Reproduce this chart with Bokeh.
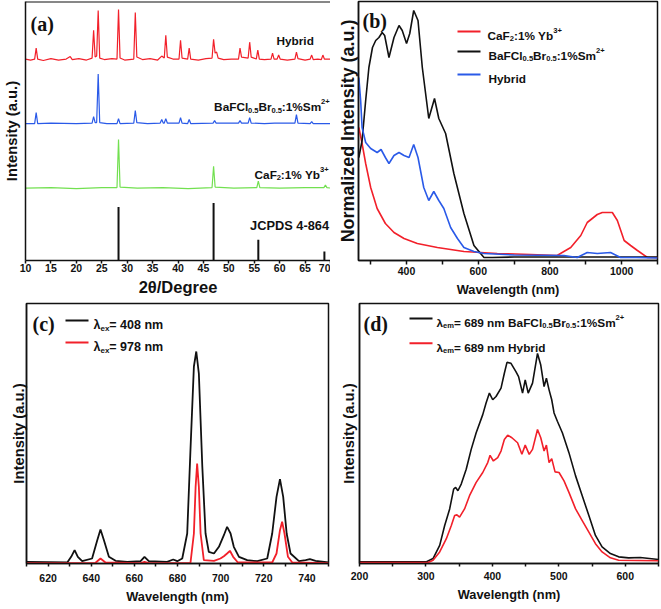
from bokeh.plotting import figure
from bokeh.layouts import row, column
from bokeh.models import FixedTicker, Span
from bokeh.core.properties import value
from bokeh.embed import file_html
from bokeh.resources import INLINE

RED = "#f2202a"
BLUE = "#2a5ae8"
GREEN = "#72e050"
BLACK = "#111111"
SANS = "Liberation Sans"
SERIF = "Liberation Serif"

# ---------------- (a) XRD data (2theta, intensity offset) ----------------
hyb_x = [10.0, 11.0, 11.8, 12.1, 12.4, 13.5, 15.0, 16.5, 18.0, 18.8, 19.2, 20.5, 22.0, 23.1, 23.4, 23.7,
         24.0, 24.3, 24.6, 25.5, 27.0, 28.0, 28.3, 28.6, 29.5, 31.3, 31.6, 31.9, 33.0, 34.5, 36.0, 36.8,
         37.3, 37.6, 37.9, 39.0, 40.2, 40.5, 40.8, 41.9, 42.2, 42.5, 44.0, 45.5, 46.7, 47.0, 47.3, 47.6,
         47.9, 49.0, 50.5, 51.9, 52.2, 52.5, 53.8, 54.1, 54.4, 55.4, 55.7, 56.0, 57.0, 58.3, 58.6, 58.9,
         59.5, 59.8, 60.1, 61.5, 63.0, 63.3, 63.6, 65.0, 66.0, 66.3, 66.6, 67.5, 68.2, 68.5, 68.8, 70.0]
hyb_y = [203, 202, 203, 214, 203, 201.5, 203.5, 202, 203, 205.5, 202.5, 203.5, 202, 204, 232, 205,
         206, 252, 204, 202.5, 203.5, 203, 253, 204, 202, 203, 250, 205, 202.5, 203.5, 202, 206,
         204, 227, 205, 203, 203, 222, 204, 203, 214, 203, 202, 203.5, 204, 223, 209, 210,
         204, 202.5, 203, 203, 214, 205, 204, 220, 205, 203, 212, 203, 202.5, 203, 209, 203,
         203, 207, 203, 202, 203, 210, 203.5, 202, 203, 207, 202.5, 203, 202.5, 207, 203, 203]

bafcl_x = [10.0, 11.8, 12.1, 12.4, 15.0, 20.0, 23.1, 23.4, 23.7, 24.0, 24.3, 24.6, 26.0, 28.0, 28.3, 28.6,
           31.3, 31.6, 31.9, 34.0, 36.5, 36.8, 37.1, 37.3, 37.6, 37.9, 40.2, 40.5, 40.8, 41.9, 42.2, 42.5,
           46.9, 47.2, 47.5, 51.9, 52.2, 52.5, 53.8, 54.1, 54.4, 57.0, 59.0, 63.0, 63.3, 63.6, 66.0, 66.3,
           66.6, 70.0]
bafcl_y = [138, 138, 149, 138, 138.5, 138, 138.5, 145, 139, 139, 188, 139, 138, 138, 143, 138,
           138.5, 151, 139, 138, 138.5, 142, 138.5, 138.5, 143, 138.5, 138.5, 144, 138.5, 138, 142, 138,
           138.5, 141, 138.5, 138.5, 141, 138.5, 138.5, 144, 138.5, 138, 138.5, 138.5, 147, 138.5, 138, 140,
           138, 138]

caf2_x = [10.0, 15.0, 20.0, 25.0, 28.0, 28.3, 28.6, 32.0, 37.0, 42.0, 46.7, 47.0, 47.3, 51.0, 55.5, 55.8,
          56.1, 60.0, 65.0, 68.7, 69.0, 69.3, 70.0]
caf2_y = [73, 73.5, 72.5, 73.5, 73.5, 122, 74, 73, 73.5, 72.5, 73.5, 95, 74, 73, 73.5, 80,
          73.5, 73, 73.5, 73.5, 76, 73.5, 73]

jcpds_pos = [28.3, 47.0, 55.8, 68.8]
jcpds_h = [54, 58, 21, 9]

xrd_ticks = [10, 15, 20, 25, 30, 35, 40, 45, 50, 55, 60, 65, 70]

# ---------------- (b) excitation spectra ----------------
b_black_w = [267, 276, 286, 295, 305, 314, 323, 332, 339, 351, 365, 379, 388, 400, 409, 420, 432, 444,
             462, 478, 490, 509, 532, 560, 588, 616, 640, 700, 800, 900, 1000, 1100]
b_black_i = [103, 120, 160, 193, 213, 220, 223, 228, 225, 203, 223, 235, 230, 217, 227, 250, 240, 193,
             142, 162, 142, 127, 87, 47, 15, 3, 3, 3.5, 3.5, 3.5, 3.5, 3.5]
b_blue_w = [267, 272, 276, 286, 300, 318, 329, 341, 351, 365, 379, 393, 407, 420, 432, 448, 462, 476,
            490, 504, 523, 542, 560, 588, 616, 700, 839, 876, 904, 932, 969, 997, 1040, 1100]
b_blue_i = [183, 160, 133, 118, 112, 108, 111, 103, 97, 105, 108, 105, 103, 116, 103, 73, 60, 69,
            60, 52, 33, 22, 13, 9, 7, 5.5, 5, 3, 8, 7, 8, 3, 3, 2.5]
b_red_w = [267, 276, 286, 300, 318, 341, 365, 393, 430, 486, 560, 653, 746, 820, 858, 886, 904, 932,
           946, 974, 988, 1007, 1025, 1044, 1072, 1100]
b_red_i = [133, 117, 97, 73, 52, 37, 28, 22, 17, 13, 9, 7, 6, 5, 13, 25, 38, 46,
           48, 48, 40, 20, 15, 10, 3, 3]

# ---------------- (c) emission spectra ----------------
c_black_w = [610, 628.9, 630.7, 632.3, 633.8, 635.8, 640.4, 642.8, 644.3, 645.9, 648.2, 651.3, 656.7,
             662.9, 664.7, 666.7, 675.2, 678, 679.9, 682.2, 684.5, 686, 687.6, 688.7, 689.9, 691.5, 693,
             694.5, 696.9, 699.2, 701.5, 703, 704.6, 706.1, 708.5, 712.3, 717, 721.6, 723.9, 725.9, 727.5,
             729, 730.6, 732.4, 736.3, 739.4, 741.4, 744, 750]
c_black_i = [1.7, 1, 6.7, 13.3, 6.7, 2.3, 5, 23.3, 34, 23.3, 6.7, 2.7, 1.7,
             2.3, 6.7, 2.3, 1.7, 4, 2.3, 5, 30, 113, 197, 212, 190, 97, 30,
             11.7, 10, 16.7, 28.3, 36.7, 30, 16.7, 6.7, 3.3, 2.3, 5, 30, 66.7, 84.3,
             66.7, 30, 10, 2.3, 3.3, 4.3, 2.7, 1]
c_red_w = [610, 642, 644.3, 646.6, 662.9, 664.7, 666.7, 686, 687.6, 688.4, 689.1, 689.9, 690.7, 692.2,
           696.9, 699.9, 701.5, 703, 704.3, 705.8, 708, 723.9, 725.9, 727.5, 728.5, 729.6, 731.2, 733.2, 750]
c_red_i = [0.3, 0.7, 5, 1, 0.3, 1.7, 0.3, 0.3, 30, 76.7, 100, 76.7, 30, 3.3,
           2.7, 5, 7.3, 10, 12.7, 6.7, 1, 1, 10, 33.3, 41.7, 30, 6.7, 1, 0.3]

# ---------------- (d) excitation spectra (em 689 nm) ----------------
d_black_w = [200, 300.8, 310.7, 320.7, 328.2, 335.7, 341.7, 344.7, 348.1, 353.1, 360.6, 368.1, 375.6,
             385.5, 390.5, 395.5, 400.5, 405.5, 413, 418, 422, 428, 435.4, 439.4, 445.4, 449.4, 453.9,
             460.4, 467.9, 472.8, 477.8, 481.3, 485.3, 489.3, 492.8, 497.8, 505.3, 515.2, 525.2, 535.2,
             545.2, 555.1, 565.1, 577.6, 590, 605, 622.5, 650]
d_black_i = [1.7, 1.7, 5, 18.3, 38.3, 55, 75, 76.7, 73.3, 80, 95, 115, 131.7,
             150, 161.7, 171.7, 165, 168.3, 176.7, 191.7, 202.7, 201.7, 193.3, 188.3, 171.7, 185, 171.7,
             181.7, 211.7, 200, 178.3, 186.7, 175, 165, 151.7, 143.3, 131.7, 111.7, 88.3, 68.3,
             48.3, 28.3, 16.7, 10, 6.7, 5.7, 6, 4]
d_red_w = [200, 303.3, 310.7, 320.7, 330.7, 338.2, 343.2, 346.6, 350.6, 358.1, 365.6, 375.6, 385.5,
           393, 396.5, 401.5, 408, 413, 418, 423, 429.4, 437.9, 444.4, 449.4, 455.4, 460.4, 467.9,
           472.8, 477.8, 481.3, 485.3, 489.3, 494.3, 500.3, 507.8, 515.2, 525.2, 535.2, 545.2, 555.1,
           565.1, 577.6, 590, 650]
d_red_i = [1, 1, 3.3, 11.7, 25, 38.3, 48.3, 49, 46.7, 55, 68.3, 81.7, 91.7,
           101.7, 109, 103.3, 106.7, 113.3, 125, 129.3, 126.7, 121.7, 110, 119.3, 110, 115, 135,
           126.7, 113.3, 119.3, 101.7, 105.7, 92.3, 91.7, 83.3, 71.7, 55, 43.3, 31.7, 20,
           11.7, 5.7, 3.3, 2.7]

# ---------------- text helpers ----------------
W = {' ': 278, '%': 889, '(': 333, ')': 333, '+': 584, '-': 333, '.': 278, '/': 278, ':': 333, '=': 584,
     'A': 722, 'B': 722, 'C': 722, 'D': 722, 'F': 611, 'H': 722, 'I': 278, 'J': 556, 'N': 722, 'P': 667,
     'S': 667, 'W': 944, 'Y': 667, 'a': 556, 'b': 611, 'd': 611, 'e': 556, 'g': 611, 'h': 611, 'i': 278,
     'l': 278, 'm': 889, 'n': 611, 'o': 611, 'r': 389, 's': 556, 't': 333, 'u': 611, 'v': 556, 'x': 556,
     'y': 556, 'z': 500, 'λ': 556}
SUBF = 0.64


def tw(s, fs):
    return sum(W.get(c, 556) for c in s) * fs / 1000.0


def make_conv(L, R, T, B, xr, yr):
    def conv(px, py):
        return (xr[0] + (px - L) / (R - L) * (xr[1] - xr[0]),
                yr[0] + (B - py) / (B - T) * (yr[1] - yr[0]))
    return conv


def rich(p, conv, xref, yref, segs, fs=11.8, color=BLACK, align="left"):
    sizes = [fs * SUBF if k != "n" else fs for _, k in segs]
    widths = [tw(t, s) for (t, _), s in zip(segs, sizes)]
    cur = xref - sum(widths) if align == "right" else xref
    for (t, k), s, w in zip(segs, sizes, widths):
        dy = 0.25 * fs if k == "sub" else (-0.45 * fs if k == "sup" else 0.0)
        x, y = conv(cur, yref + dy)
        p.text(x=[x], y=[y], text=[t], text_font=value(SANS), text_font_style="bold",
               text_font_size=value(f"{s:.1f}px"), text_color=color,
               text_baseline="alphabetic", text_align="left")
        cur += w


def panel_letter(p, conv, xref, yref, t):
    x, y = conv(xref, yref)
    p.text(x=[x], y=[y], text=[t], text_font=value(SERIF), text_font_style="bold",
           text_font_size=value("20px"), text_color=BLACK,
           text_baseline="alphabetic", text_align="left")


def legend_line(p, conv, x0, x1, yref, color):
    xa, ya = conv(x0, yref)
    xb, _ = conv(x1, yref)
    p.line(x=[xa, xb], y=[ya, ya], line_color=color, line_width=2)


def make_fig(w, h, xr, yr, bl, br, bt, bb, outline):
    p = figure(width=w, height=h, x_range=xr, y_range=yr, output_backend="svg",
               toolbar_location=None, min_border_left=bl, min_border_right=br,
               min_border_top=bt, min_border_bottom=bb, background_fill_color="white",
               border_fill_color="white",
               outline_line_color=BLACK if outline else None, outline_line_width=1.5)
    p.xgrid.visible = False
    p.ygrid.visible = False
    return p


def style_x(p, ticks, minor, label, lab_fs, tick_out, lab_standoff, axlab_standoff):
    ax = p.below[0]
    ax.ticker = FixedTicker(ticks=ticks, minor_ticks=minor)
    ax.axis_label = label
    ax.axis_label_text_font = SANS
    ax.axis_label_text_font_style = "bold"
    ax.axis_label_text_font_size = f"{lab_fs:.1f}px"
    ax.axis_label_text_color = BLACK
    ax.axis_label_standoff = int(axlab_standoff)
    ax.major_label_text_font = SANS
    ax.major_label_text_font_style = "bold"
    ax.major_label_text_font_size = "10.5px"
    ax.major_label_text_color = BLACK
    ax.major_label_standoff = int(lab_standoff)
    ax.major_tick_out = int(tick_out)
    ax.major_tick_in = 0
    ax.minor_tick_out = int(tick_out)
    ax.minor_tick_in = 0
    ax.axis_line_width = 1.5
    ax.axis_line_color = BLACK
    ax.major_tick_line_width = 1.5
    ax.minor_tick_line_width = 1.5
    ax.major_tick_line_color = BLACK
    ax.minor_tick_line_color = BLACK


def style_y(p, label, fs, standoff):
    ax = p.left[0]
    ax.ticker = FixedTicker(ticks=[])
    ax.major_tick_out = 0
    ax.major_tick_in = 0
    ax.minor_tick_out = 0
    ax.minor_tick_in = 0
    ax.major_label_text_font_size = "0px"
    ax.axis_label = label
    ax.axis_label_text_font = SANS
    ax.axis_label_text_font_style = "bold"
    ax.axis_label_text_font_size = f"{fs:.1f}px"
    ax.axis_label_text_color = BLACK
    ax.axis_label_standoff = int(standoff)
    ax.axis_line_width = 1.5
    ax.axis_line_color = BLACK


BAF = [("BaFCl", "n"), ("0.5", "sub"), ("Br", "n"), ("0.5", "sub"), (":1%Sm", "n"), ("2+", "sup")]
CAF = [("CaF", "n"), ("2", "sub"), (":1% Yb", "n"), ("3+", "sup")]

# ---------------- panel (a) ----------------
xa_r, ya_r = (10, 70), (0, 261)
fa = make_fig(330, 300, xa_r, ya_r, 23, 0, 1, 38, False)
style_x(fa, xrd_ticks, [], "2θ/Degree", 16.5, 3, 0, 3)
style_y(fa, "Intensity (a.u.)", 14.8, 6)
fa.add_layout(Span(location=ya_r[1], dimension="width", line_color=BLACK, line_width=2))
ca = make_conv(23, 330, 1, 262, xa_r, ya_r)
fa.line(hyb_x, hyb_y, line_color=RED, line_width=1.2)
fa.line(bafcl_x, bafcl_y, line_color=BLUE, line_width=1.2)
fa.line(caf2_x, caf2_y, line_color=GREEN, line_width=1.2)
fa.segment(x0=jcpds_pos, y0=[0] * len(jcpds_pos), x1=jcpds_pos, y1=jcpds_h, line_color=BLACK, line_width=2)
panel_letter(fa, ca, 28, 23.6, "(a)")
rich(fa, ca, 313, 40.5, [("Hybrid", "n")], align="right")
rich(fa, ca, 329, 107.5, BAF, align="right")
rich(fa, ca, 328, 175.5, CAF, align="right")
rich(fa, ca, 328, 226.5, [("JCPDS 4-864", "n")], fs=12.8, align="right")

# ---------------- panel (b) ----------------
xb_r, yb_r = (266, 1100), (0, 259)
fb = make_fig(331, 300, xb_r, yb_r, 28, 4, 1, 40, True)
style_x(fb, [400, 600, 800, 1000], [300, 500, 700, 900, 1100], "Wavelength (nm)", 12.8, 4, 2, 4)
style_y(fb, "Normalized Intensity (a.u.)", 17.9, 1)
cb = make_conv(358, 657, 1, 260, xb_r, yb_r)
fb.line(b_red_w, b_red_i, line_color=RED, line_width=1.6)
fb.line(b_black_w, b_black_i, line_color=BLACK, line_width=1.6)
fb.line(b_blue_w, b_blue_i, line_color=BLUE, line_width=1.6)
panel_letter(fb, cb, 362, 20.6, "(b)")
legend_line(fb, cb, 457, 480, 31, RED)
legend_line(fb, cb, 457, 480, 51, BLACK)
legend_line(fb, cb, 457, 480, 74, BLUE)
rich(fb, cb, 487, 35.2, CAF)
rich(fb, cb, 488, 55.5, BAF)
rich(fb, cb, 488, 78.5, [("Hybrid", "n")])

# ---------------- panel (c) ----------------
xc_r, yc_r = (610, 750), (0, 260)
fc = make_fig(330, 309, xc_r, yc_r, 26, 2, 3, 46, True)
style_x(fc, [620, 640, 660, 680, 700, 720, 740], [610, 630, 650, 670, 690, 710, 730, 750],
        "Wavelength (nm)", 12.8, 3, 7, 4)
style_y(fc, "Intensity (a.u.)", 14.8, 0)
cc = make_conv(26, 328, 303, 563, xc_r, yc_r)
fc.line(c_black_w, c_black_i, line_color=BLACK, line_width=1.8)
fc.line(c_red_w, c_red_i, line_color=RED, line_width=1.8)
panel_letter(fc, cc, 32, 323, "(c)")
legend_line(fc, cc, 65, 88, 320, BLACK)
legend_line(fc, cc, 65, 88, 342, RED)
rich(fc, cc, 93, 324.5, [("λ", "n"), ("ex", "sub"), ("= 408 nm", "n")], fs=12.5)
rich(fc, cc, 93, 346.5, [("λ", "n"), ("ex", "sub"), ("= 978 nm", "n")], fs=12.5)

# ---------------- panel (d) ----------------
xd_r, yd_r = (200, 650), (0, 262)
fd = make_fig(331, 309, xd_r, yd_r, 29, 3, 3, 44, True)
style_x(fd, [200, 300, 400, 500, 600], [250, 350, 450, 550, 650], "Wavelength (nm)", 12.8, 3, 5, 4)
style_y(fd, "Intensity (a.u.)", 14.8, 3)
cd = make_conv(359, 658, 303, 565, xd_r, yd_r)
fd.line(d_black_w, d_black_i, line_color=BLACK, line_width=1.6)
fd.line(d_red_w, d_red_i, line_color=RED, line_width=1.6)
panel_letter(fd, cd, 363, 323.5, "(d)")
legend_line(fd, cd, 409, 432, 318, BLACK)
legend_line(fd, cd, 409, 432, 343, RED)
rich(fd, cd, 436, 322.5, [("λ", "n"), ("em", "sub"), ("= 689 nm ", "n")] + BAF)
rich(fd, cd, 436, 347.5, [("λ", "n"), ("em", "sub"), ("= 689 nm Hybrid", "n")])

layout = column(row(fa, fb), row(fc, fd))
open("out.html", "w").write(file_html(layout, INLINE))
